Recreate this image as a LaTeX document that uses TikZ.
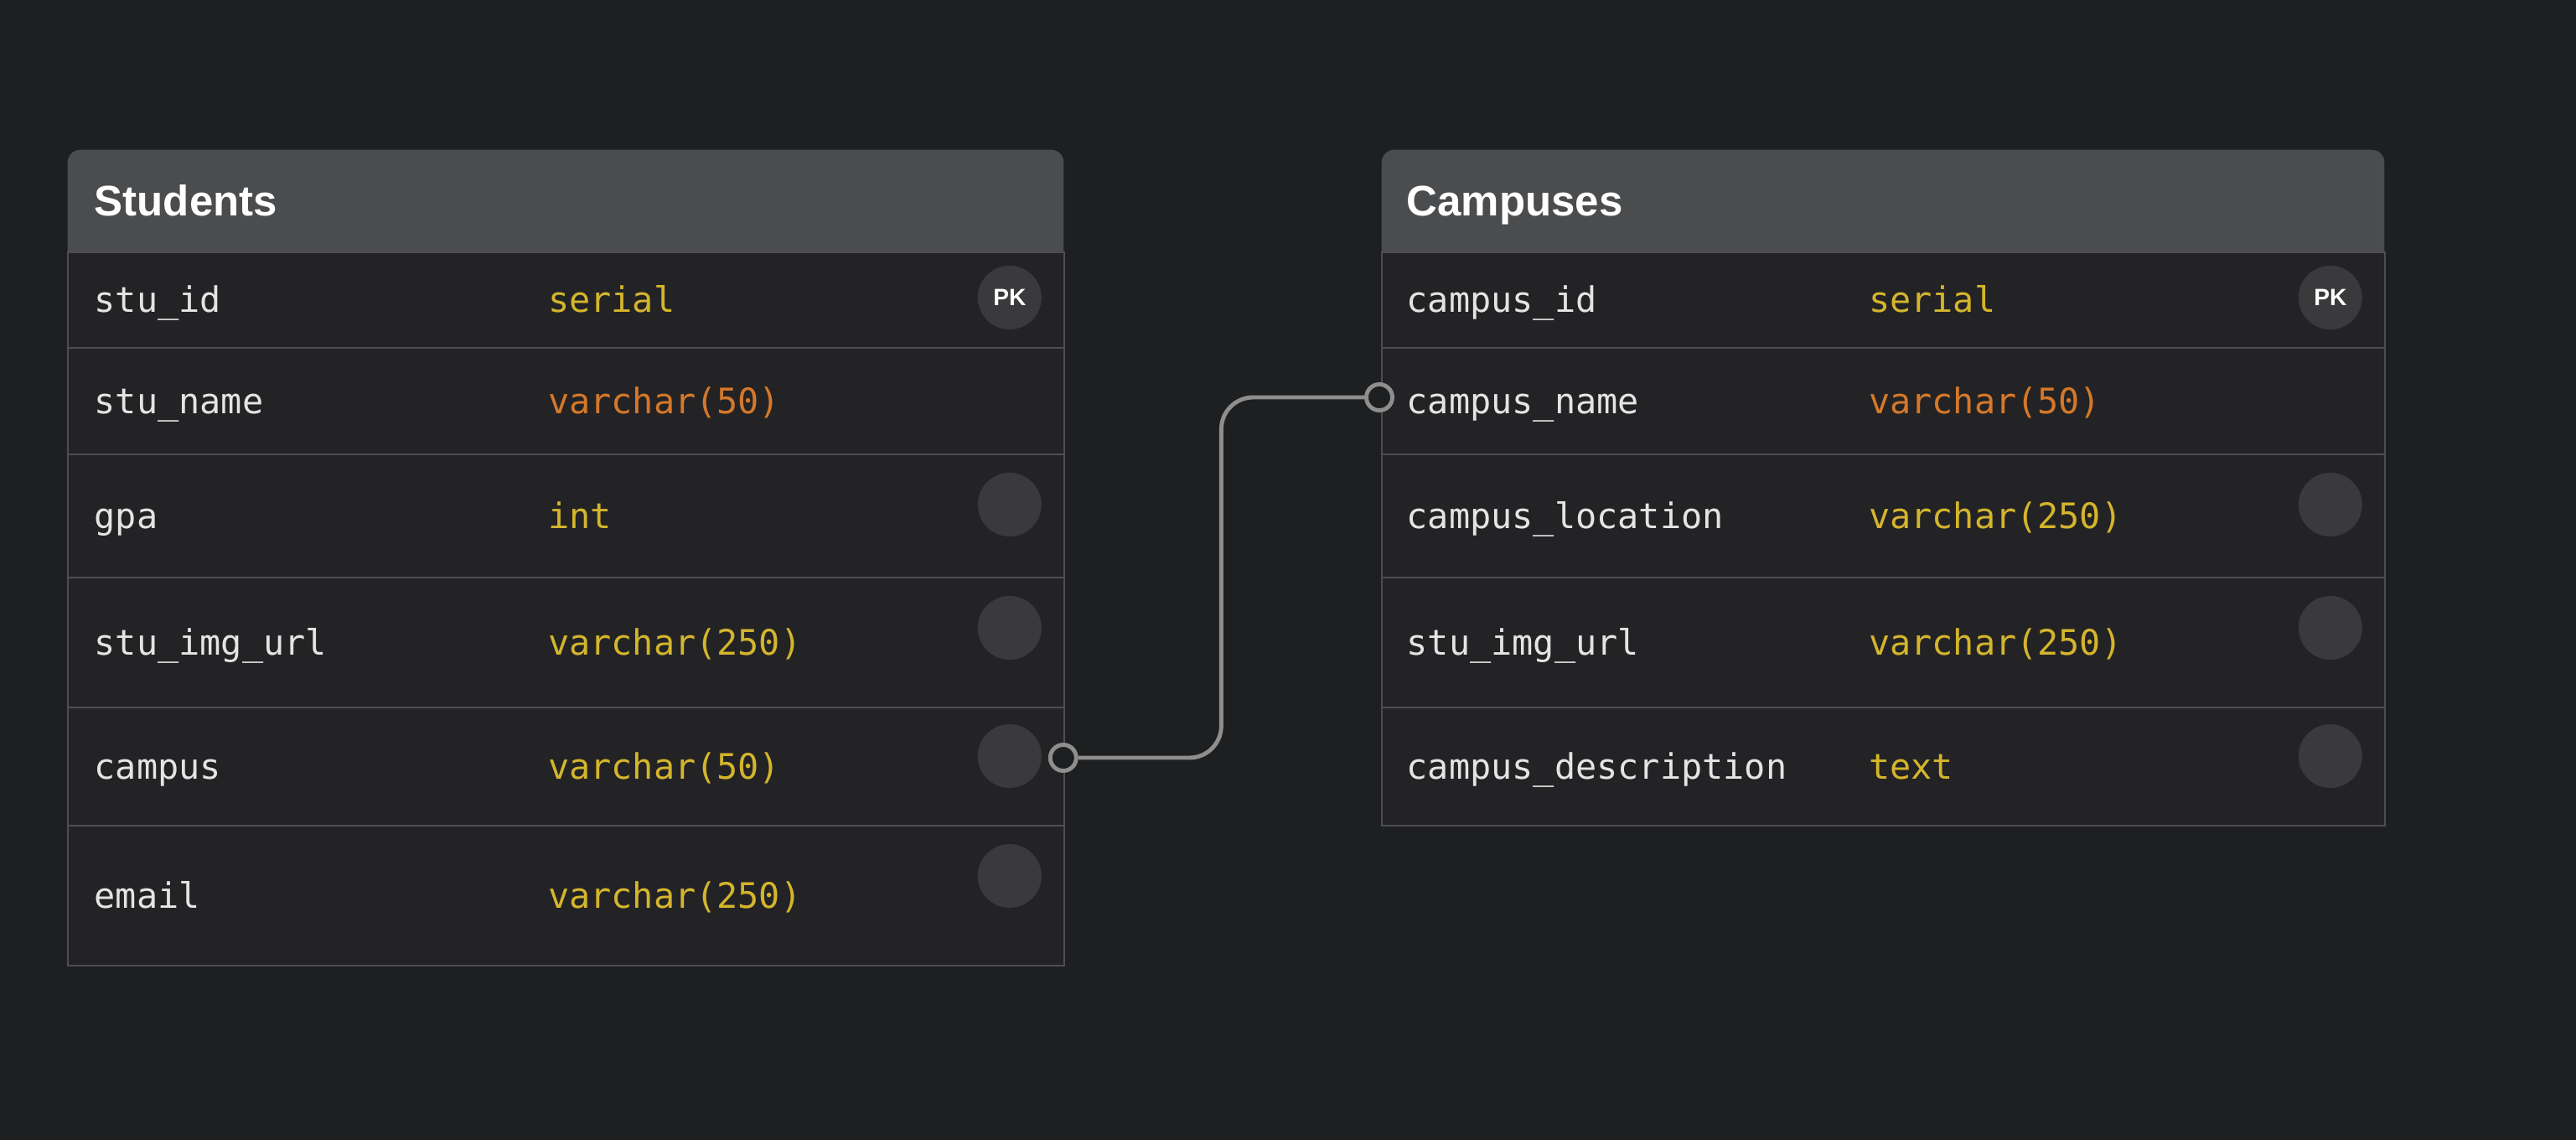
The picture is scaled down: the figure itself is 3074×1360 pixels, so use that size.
\documentclass[tikz,border=0pt]{standalone}
\usepackage{fontspec}
\setmainfont{Liberation Sans}
\setsansfont{Liberation Sans}
\setmonofont{DejaVu Sans Mono}
\usepackage{tikz}
\usetikzlibrary{positioning,calc}

\definecolor{canvas}{HTML}{1E1F21}
\definecolor{rowfill}{HTML}{232325}
\definecolor{headfill}{HTML}{4B4C4E}
\definecolor{rule}{HTML}{4E4E50}
\definecolor{keyfill}{HTML}{3A3A3C}
\definecolor{fieldtext}{HTML}{E4E4E4}
\definecolor{typeyellow}{HTML}{D4B52C}
\definecolor{typeorange}{HTML}{D5782A}
\definecolor{linkgray}{HTML}{8E8E8E}

\begin{document}
\begin{tikzpicture}[x=0.01cm,y=-0.01cm,
  head/.style={rectangle,rounded corners=0.15cm,fill=headfill,anchor=north west,minimum height=1.40cm,inner sep=0},
  row/.style={rectangle,draw=rule,line width=0.6pt,fill=rowfill,anchor=north west,inner sep=0},
  title/.style={anchor=west,inner sep=0,text height=0.72em,text depth=0pt,text=white,font=\fontsize{14.5}{17}\selectfont\bfseries},
  field/.style={anchor=west,inner sep=0,text height=1.7ex,text depth=0.1ex,text=fieldtext,font=\ttfamily\fontsize{11.9}{14}\selectfont},
  sqltype/.style={field,text=typeyellow},
  sqllen/.style={field,text=typeorange},
  key/.style={circle,fill=keyfill,minimum size=0.76cm,inner sep=0,text=white,font=\sffamily\bfseries\fontsize{8}{9}\selectfont},
  link/.style={draw=linkgray,line width=1.4pt,rounded corners=0.38cm},
  ring/.style={circle,draw=linkgray,line width=1.4pt,fill=canvas,minimum size=0.31cm,inner sep=0}]

\fill[canvas] (0,0) rectangle (3074,1360);
\useasboundingbox (0,0) rectangle (3074,1360);

% Students
\node(stu-head)[head,minimum width=11.88cm] at (80,178) {};
\node(s1)[row,minimum width=11.88cm,minimum height=1.14cm] at (80,300) {};
\node(s2)[row,minimum width=11.88cm,minimum height=1.27cm] at (80,414) {};
\node(s3)[row,minimum width=11.88cm,minimum height=1.47cm] at (80,541) {};
\node(s4)[row,minimum width=11.88cm,minimum height=1.55cm] at (80,688) {};
\node(s5)[row,minimum width=11.88cm,minimum height=1.41cm] at (80,843) {};
\node(s6)[row,minimum width=11.88cm,minimum height=1.67cm] at (80,984) {};
\node(stu-title)[title] at (112,245) {Students};

\node(s1-name)[field,right=0.32cm of s1.west] {stu\_id};
\node(s2-name)[field,right=0.32cm of s2.west] {stu\_name};
\node(s3-name)[field,right=0.32cm of s3.west] {gpa};
\node(s4-name)[field,right=0.32cm of s4.west] {stu\_img\_url};
\node(s5-name)[field,right=0.32cm of s5.west] {campus};
\node(s6-name)[field,right=0.32cm of s6.west] {email};

\node(s1-type)[sqltype,right=5.73cm of s1.west] {serial};
\node(s2-type)[sqllen,right=5.73cm of s2.west] {varchar(50)};
\node(s3-type)[sqltype,right=5.73cm of s3.west] {int};
\node(s4-type)[sqltype,right=5.73cm of s4.west] {varchar(250)};
\node(s5-type)[sqltype,right=5.73cm of s5.west] {varchar(50)};
\node(s6-type)[sqltype,right=5.73cm of s6.west] {varchar(250)};

\node(s1-key)[key] at ($(s1.north east)+(-66,55)$) {PK};
\node(s3-key)[key] at ($(s3.north east)+(-66,61)$) {};
\node(s4-key)[key] at ($(s4.north east)+(-66,61)$) {};
\node(s5-key)[key] at ($(s5.north east)+(-66,59)$) {};
\node(s6-key)[key] at ($(s6.north east)+(-66,61)$) {};

% Campuses
\node(cmp-head)[head,minimum width=11.96cm] at (1648,178) {};
\node(c1)[row,minimum width=11.96cm,minimum height=1.14cm] at (1648,300) {};
\node(c2)[row,minimum width=11.96cm,minimum height=1.27cm] at (1648,414) {};
\node(c3)[row,minimum width=11.96cm,minimum height=1.47cm] at (1648,541) {};
\node(c4)[row,minimum width=11.96cm,minimum height=1.55cm] at (1648,688) {};
\node(c5)[row,minimum width=11.96cm,minimum height=1.41cm] at (1648,843) {};
\node(cmp-title)[title] at (1678,245) {Campuses};

\node(c1-name)[field,right=0.30cm of c1.west] {campus\_id};
\node(c2-name)[field,right=0.30cm of c2.west] {campus\_name};
\node(c3-name)[field,right=0.30cm of c3.west] {campus\_location};
\node(c4-name)[field,right=0.30cm of c4.west] {stu\_img\_url};
\node(c5-name)[field,right=0.30cm of c5.west] {campus\_description};

\node(c1-type)[sqltype,right=5.81cm of c1.west] {serial};
\node(c2-type)[sqllen,right=5.81cm of c2.west] {varchar(50)};
\node(c3-type)[sqltype,right=5.81cm of c3.west] {varchar(250)};
\node(c4-type)[sqltype,right=5.81cm of c4.west] {varchar(250)};
\node(c5-type)[sqltype,right=5.81cm of c5.west] {text};

\node(c1-key)[key] at ($(c1.north east)+(-66,55)$) {PK};
\node(c3-key)[key] at ($(c3.north east)+(-66,61)$) {};
\node(c4-key)[key] at ($(c4.north east)+(-66,61)$) {};
\node(c5-key)[key] at ($(c5.north east)+(-66,59)$) {};

% campus -> campus_name
\node(stu-ring)[ring] at ($(s5.north east)+(-2,61)$) {};
\node(cmp-ring)[ring] at ($(c2.north west)+(-2,60)$) {};
\draw [link] (stu-ring.east) -| ($(stu-ring)!0.5!(cmp-ring)$) |- (cmp-ring.west);
\end{tikzpicture}
\end{document}
